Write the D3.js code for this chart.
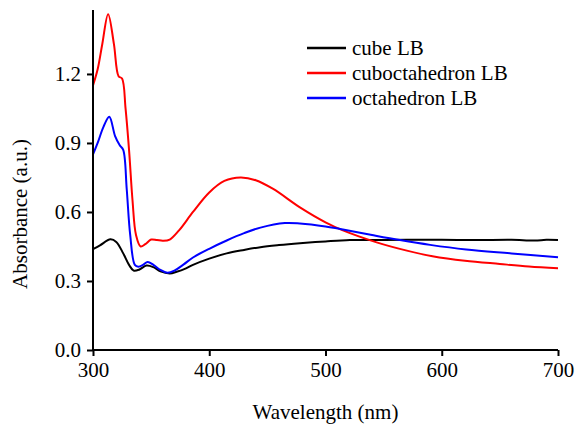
<!DOCTYPE html>
<html>
<head>
<meta charset="utf-8">
<script src="https://cdn.jsdelivr.net/npm/d3@7"></script>
<style>
  body { margin: 0; background: #fff; }
  svg text { font-family: "Liberation Serif", Tinos, "Times New Roman", Times, "DejaVu Serif", serif; }
</style>
</head>
<body>
<div id="chart"></div>
<script>
const width = 576;
const height = 430;
const margin = {top: 10, right: 18, bottom: 80, left: 93};
const fontStack = "'Liberation Serif', Tinos, 'Times New Roman', Times, 'DejaVu Serif', serif";

// wavelength (nm) for each series
const cubeX = [300, 306, 315, 320, 326, 331, 335, 340, 346, 352, 358, 366, 372, 380, 386, 400, 415, 430, 444, 460, 478, 500, 521, 545, 570, 600, 630, 660, 680, 690, 700];
const cubeY = [0.438, 0.455, 0.481, 0.470, 0.420, 0.370, 0.345, 0.350, 0.367, 0.360, 0.342, 0.333, 0.340, 0.355, 0.370, 0.397, 0.420, 0.435, 0.447, 0.456, 0.464, 0.472, 0.478, 0.478, 0.479, 0.479, 0.478, 0.479, 0.476, 0.479, 0.478];

const cuboX = [300, 304, 308, 313, 318, 322, 325, 328, 331, 334, 337, 341, 345, 350, 355, 360, 366, 374, 386, 400, 413, 427, 440, 455, 478, 500, 515, 544, 570, 592, 620, 650, 675, 700];
const cuboY = [1.15, 1.22, 1.33, 1.46, 1.33, 1.19, 1.18, 1.05, 0.87, 0.65, 0.50, 0.45, 0.46, 0.48, 0.478, 0.475, 0.48, 0.52, 0.60, 0.685, 0.735, 0.75, 0.738, 0.70, 0.62, 0.555, 0.52, 0.468, 0.432, 0.408, 0.388, 0.374, 0.363, 0.355];

const octaX = [300, 304, 309, 314, 319, 323, 326, 329, 332, 336, 339, 343, 347, 352, 358, 364, 370, 378, 386, 400, 415, 430, 444, 465, 478, 500, 515, 540, 564, 590, 621, 660, 700];
const octaY = [0.85, 0.90, 0.97, 1.014, 0.93, 0.89, 0.87, 0.70, 0.50, 0.37, 0.362, 0.37, 0.383, 0.370, 0.348, 0.336, 0.345, 0.372, 0.402, 0.44, 0.476, 0.508, 0.532, 0.552, 0.550, 0.537, 0.524, 0.500, 0.478, 0.457, 0.437, 0.42, 0.403];

const seriesNames = ["cube LB", "cuboctahedron LB", "octahedron LB"];
const seriesColors = ["#000000", "#ff0000", "#0000ff"];
const xTicks = [300, 400, 500, 600, 700];
const yTicks = [0.0, 0.3, 0.6, 0.9, 1.2];

const series = [
  {name: seriesNames[0], color: seriesColors[0], x: cubeX, y: cubeY},
  {name: seriesNames[1], color: seriesColors[1], x: cuboX, y: cuboY},
  {name: seriesNames[2], color: seriesColors[2], x: octaX, y: octaY}
];

const svg = d3.select("#chart")
    .append("svg")
    .attr("width", width)
    .attr("height", height);

const x = d3.scaleLinear()
    .domain([300, 700])
    .range([margin.left, width - margin.right]);

const y = d3.scaleLinear()
    .domain([0, 1.478])
    .range([height - margin.bottom, margin.top]);

const line = d3.line()
    .x(d => x(d[0]))
    .y(d => y(d[1]))
    .curve(d3.curveCatmullRom.alpha(0.5));

// data lines
svg.selectAll("path.series")
    .data(series)
    .join("path")
    .attr("class", "series")
    .attr("fill", "none")
    .attr("stroke", d => d.color)
    .attr("stroke-width", 2)
    .attr("d", d => line(d.x.map((v, i) => [v, d.y[i]])));

// axes
const xAxis = svg.append("g")
    .attr("transform", `translate(0,${height - margin.bottom})`)
    .call(d3.axisBottom(x).tickValues(xTicks).tickSize(6).tickPadding(6).tickFormat(d3.format("d")));

const yAxis = svg.append("g")
    .attr("transform", `translate(${margin.left},0)`)
    .call(d3.axisLeft(y).tickValues(yTicks).tickSize(6).tickPadding(6).tickFormat(d3.format(".1f")));

[xAxis, yAxis].forEach(g => {
  g.attr("font-family", null);
  g.select(".domain").attr("stroke", "#000").attr("stroke-width", 2);
  g.selectAll(".tick line").attr("stroke", "#000").attr("stroke-width", 2);
  g.selectAll(".tick text")
      .attr("fill", "#000")
      .style("font-family", fontStack)
      .style("font-size", "21px");
});
xAxis.select(".domain").attr("d", `M${x(300)},0H${x(700)}`);
yAxis.select(".domain").attr("d", `M0,${y(0)}V${margin.top}`);

// axis titles
svg.append("text")
    .attr("x", (x(300) + x(700)) / 2)
    .attr("y", 419)
    .attr("text-anchor", "middle")
    .style("font-family", fontStack)
    .style("font-size", "21px")
    .text("Wavelength (nm)");

svg.append("text")
    .attr("transform", "translate(27,214) rotate(-90)")
    .attr("text-anchor", "middle")
    .style("font-family", fontStack)
    .style("font-size", "21px")
    .text("Absorbance (a.u.)");

// legend
const legend = svg.append("g")
    .selectAll("g")
    .data(series)
    .join("g")
    .attr("transform", (d, i) => `translate(307,${48 + i * 25})`);

legend.append("line")
    .attr("x1", 0)
    .attr("x2", 39)
    .attr("stroke", d => d.color)
    .attr("stroke-width", 2.5);

legend.append("text")
    .attr("x", 45)
    .attr("y", 7)
    .style("font-family", fontStack)
    .style("font-size", "21px")
    .text(d => d.name);
</script>
</body>
</html>
